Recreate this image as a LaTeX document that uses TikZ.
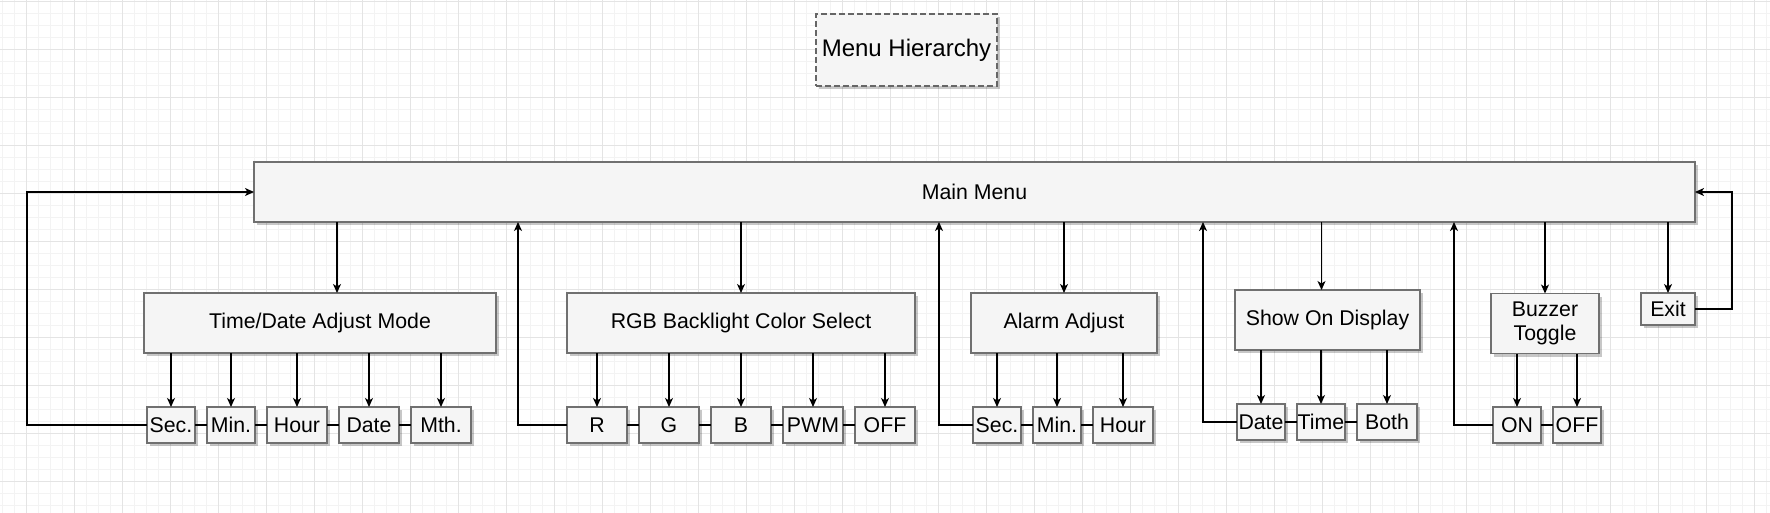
\documentclass[tikz,border=0pt]{standalone}
\usepackage{fontspec}
\setmainfont{Liberation Sans}
\usepackage{tikz}
\usetikzlibrary{shapes.geometric, arrows.meta, positioning, shadows}
\definecolor{boxfill}{HTML}{F5F5F5}
\definecolor{boxline}{HTML}{707070}
\definecolor{gridmajor}{HTML}{E4E4E4}
\definecolor{gridminor}{HTML}{F3F3F3}
\tikzstyle{menubox} = [rectangle, draw=boxline, line width=1.3pt, fill=boxfill, drop shadow={shadow xshift=3pt, shadow yshift=-3pt, fill=black, opacity=0.22}, inner sep=0pt, outer sep=0pt, minimum height=60pt, text centered, font=\fontsize{21.3}{24}\selectfont]
\tikzstyle{leafbox} = [menubox, minimum width=60pt, minimum height=36pt]
\tikzstyle{arrow} = [line width=1.3pt, ->, >={Stealth[length=9pt,width=8pt,inset=2.5pt]}]
\tikzstyle{link} = [line width=1.3pt]

\begin{document}
\begin{tikzpicture}[x=1pt, y=-1pt]
	\useasboundingbox (0,0) rectangle (1770,512);

	% background grid
	\begin{scope}[shift={(2.3,1)}]
		\clip (-2.3,-1) rectangle (1767.7,511);
		\draw [gridminor, line width=1pt] (-12,520) grid [step=12pt] (1780,-12);
	\end{scope}
	\begin{scope}[shift={(26.3,1)}]
		\clip (-26.3,-1) rectangle (1743.7,511);
		\draw [gridmajor, line width=1pt] (-48,520) grid [step=48pt] (1780,-48);
	\end{scope}

	% title and main menu
	\node (title) [menubox, draw=black!60, line width=2pt, dash pattern=on 6pt off 3pt, minimum width=181pt, minimum height=72pt, font=\fontsize{24}{28}\selectfont] at (906.5,50) {Menu Hierarchy};
	\node (main) [menubox, minimum width=1441pt] at (974.5,192) {Main Menu};

	% sub menus
	\node (td) [menubox, minimum width=352pt] at (320,323) {Time/Date Adjust Mode};
	\node (rgb) [menubox, minimum width=348pt] at (741,323) {RGB Backlight Color Select};
	\node (alarm) [menubox, minimum width=186pt] at (1064,323) {Alarm Adjust};
	\node (show) [menubox, minimum width=185pt] at (1327.5,320) {Show On Display};
	\node (buzzer) [menubox, minimum width=108pt, align=center] at (1545,323.5) {Buzzer\\Toggle};
	\node (exit) [menubox, minimum width=54pt, minimum height=32pt] at (1668,309) {Exit};

	% time/date entries
	\node (tdsec) [leafbox, minimum width=48pt] at (171,425) {Sec.};
	\node (tdmin) [leafbox, minimum width=48pt, right=12pt of tdsec] {Min.};
	\node (tdhour) [leafbox, right=12pt of tdmin] {Hour};
	\node (tddate) [leafbox, right=12pt of tdhour] {Date};
	\node (tdmth) [leafbox, right=12pt of tddate] {Mth.};

	% colour entries
	\node (r) [leafbox] at (597,425) {R};
	\node (g) [leafbox, right=12pt of r] {G};
	\node (b) [leafbox, right=12pt of g] {B};
	\node (pwm) [leafbox, right=12pt of b] {PWM};
	\node (off) [leafbox, right=12pt of pwm] {OFF};

	% alarm entries
	\node (asec) [leafbox, minimum width=48pt] at (997,425) {Sec.};
	\node (amin) [leafbox, minimum width=48pt, right=12pt of asec] {Min.};
	\node (ahour) [leafbox, right=12pt of amin] {Hour};

	% display entries
	\node (sdate) [leafbox, minimum width=48pt] at (1261,422) {Date};
	\node (stime) [leafbox, minimum width=48pt, right=12pt of sdate] {Time};
	\node (sboth) [leafbox, right=12pt of stime] {Both};

	% buzzer entries
	\node (bon) [leafbox, minimum width=48pt] at (1517,425) {ON};
	\node (boff) [leafbox, minimum width=48pt, right=12pt of bon] {OFF};

	% main menu to sub menus
	\draw [arrow] ([xshift=17pt]td.north |- main.south) -- ([xshift=17pt]td.north);
	\draw [arrow] (main.south -| rgb.north) -- (rgb.north);
	\draw [arrow] (main.south -| alarm.north) -- (alarm.north);
	\draw [arrow] ([xshift=-6pt]show.north |- main.south) -- ([xshift=-6pt]show.north);
	\draw [arrow] (main.south -| buzzer.north) -- (buzzer.north);
	\draw [arrow] (main.south -| exit.north) -- (exit.north);

	% sub menus to entries
	\draw [arrow] (td.south -| tdsec.north) -- (tdsec.north);
	\draw [arrow] (td.south -| tdmin.north) -- (tdmin.north);
	\draw [arrow] (td.south -| tdhour.north) -- (tdhour.north);
	\draw [arrow] (td.south -| tddate.north) -- (tddate.north);
	\draw [arrow] (td.south -| tdmth.north) -- (tdmth.north);
	\draw [arrow] (rgb.south -| r.north) -- (r.north);
	\draw [arrow] (rgb.south -| g.north) -- (g.north);
	\draw [arrow] (rgb.south -| b.north) -- (b.north);
	\draw [arrow] (rgb.south -| pwm.north) -- (pwm.north);
	\draw [arrow] (rgb.south -| off.north) -- (off.north);
	\draw [arrow] (alarm.south -| asec.north) -- (asec.north);
	\draw [arrow] (alarm.south -| amin.north) -- (amin.north);
	\draw [arrow] (alarm.south -| ahour.north) -- (ahour.north);
	\draw [arrow] (show.south -| sdate.north) -- (sdate.north);
	\draw [arrow] (show.south -| stime.north) -- (stime.north);
	\draw [arrow] (show.south -| sboth.north) -- (sboth.north);
	\draw [arrow] (buzzer.south -| bon.north) -- (bon.north);
	\draw [arrow] (buzzer.south -| boff.north) -- (boff.north);

	% links between entries
	\draw [link] (tdsec) -- (tdmin) -- (tdhour) -- (tddate) -- (tdmth);
	\draw [link] (r) -- (g) -- (b) -- (pwm) -- (off);
	\draw [link] (asec) -- (amin) -- (ahour);
	\draw [link] (sdate) -- (stime) -- (sboth);
	\draw [link] (bon) -- (boff);

	% back to main menu
	\draw [arrow] (tdsec.west) -- ++(-120,0) |- (main.west);
	\draw [arrow] (r.west) -- ++(-49,0) coordinate (rgbback) -- (rgbback |- main.south);
	\draw [arrow] (asec.west) -- ++(-34,0) coordinate (alarmback) -- (alarmback |- main.south);
	\draw [arrow] (sdate.west) -- ++(-34,0) coordinate (showback) -- (showback |- main.south);
	\draw [arrow] (bon.west) -- ++(-39,0) coordinate (buzzerback) -- (buzzerback |- main.south);
	\draw [arrow] (exit.east) -- ++(37,0) |- (main.east);
\end{tikzpicture}
\end{document}
